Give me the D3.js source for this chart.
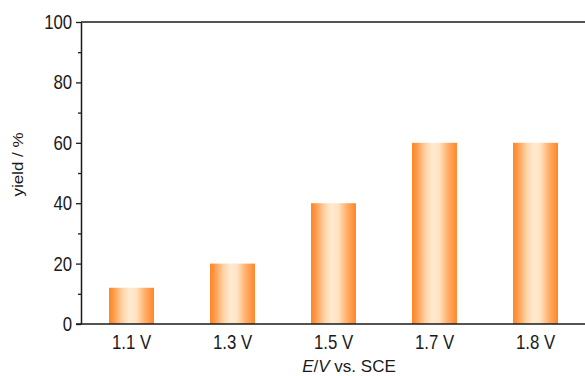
<!DOCTYPE html>
<html>
<head>
<meta charset="utf-8">
<script src="https://cdn.jsdelivr.net/npm/d3@7"></script>
<style>
  body { margin: 0; background: #fff; }
  svg { display: block; font-family: "Liberation Sans", Arial, sans-serif; }
</style>
</head>
<body>
<svg id="chart" width="585" height="376"></svg>
<script>
// data
var potentials = ['1.1 V', '1.3 V', '1.5 V', '1.7 V', '1.8 V'];
var yields = [12, 20, 40, 60, 60];
var yMajorTicks = [0, 20, 40, 60, 80, 100];
var yMinorTicks = [10, 30, 50, 70, 90];

var svg = d3.select('#chart');
var plotLeft = 81, plotRight = 586, plotTop = 22, plotBottom = 324;

var x = d3.scaleBand()
    .domain(potentials)
    .range([plotLeft, plotRight])
    .paddingInner(0.555)
    .paddingOuter(0.2775);

var y = d3.scaleLinear()
    .domain([0, 100])
    .range([plotBottom, plotTop]);

// bar gradient: orange edges, pale centre
var grad = svg.append('defs').append('linearGradient')
    .attr('id', 'barGrad')
    .attr('x1', '0%').attr('x2', '100%')
    .attr('y1', '0%').attr('y2', '0%');
[[0, '#ff8424'], [0.1, '#ff9a48'], [0.3, '#ffd3a6'], [0.45, '#ffead0'],
 [0.6, '#ffe4c4'], [0.8, '#ffae68'], [1, '#ff8628']].forEach(function(s) {
    grad.append('stop').attr('offset', s[0]).attr('stop-color', s[1]);
});

// bars
svg.selectAll('rect.bar')
    .data(yields)
    .enter().append('rect')
    .attr('class', 'bar')
    .attr('x', function(d, i) { return x(potentials[i]); })
    .attr('y', function(d) { return y(d); })
    .attr('width', x.bandwidth())
    .attr('height', function(d) { return plotBottom - y(d); })
    .attr('fill', 'url(#barGrad)');

// top frame line
svg.append('line')
    .attr('x1', plotLeft).attr('x2', 585)
    .attr('y1', plotTop).attr('y2', plotTop)
    .attr('stroke', '#1a1a1a').attr('stroke-width', 1.5);

// bottom line (extends left to the 0 tick)
svg.append('line')
    .attr('x1', plotLeft - 5).attr('x2', 585)
    .attr('y1', plotBottom).attr('y2', plotBottom)
    .attr('stroke', '#1a1a1a').attr('stroke-width', 1.5);

// y axis minor ticks
svg.append('g')
    .attr('transform', 'translate(' + plotLeft + ',0)')
    .call(d3.axisLeft(y).tickValues(yMinorTicks).tickSize(3).tickFormat(''))
    .call(function(g) { g.select('.domain').remove(); })
    .selectAll('line').attr('stroke', '#1a1a1a').attr('stroke-width', 1.3);

// y axis major
var yAxis = svg.append('g')
    .attr('transform', 'translate(' + plotLeft + ',0)')
    .call(d3.axisLeft(y).tickValues(yMajorTicks).tickSize(5).tickPadding(4).tickSizeOuter(0));
yAxis.select('.domain').attr('stroke', '#1a1a1a').attr('stroke-width', 1.5);
yAxis.selectAll('line').attr('stroke', '#1a1a1a').attr('stroke-width', 1.3);
yAxis.selectAll('text')
    .attr('font-size', 20)
    .attr('fill', '#1a1a1a')
    .attr('transform', 'scale(0.84,1)')
    .attr('x', -10.5);

// x axis labels
var xAxis = svg.append('g')
    .attr('transform', 'translate(0,' + plotBottom + ')')
    .call(d3.axisBottom(x).tickSize(0).tickPadding(11));
xAxis.select('.domain').remove();
xAxis.selectAll('text')
    .attr('font-size', 20)
    .attr('fill', '#1a1a1a')
    .attr('transform', 'scale(0.84,1)');

// axis titles
var xt = svg.append('text')
    .attr('x', 349).attr('y', 372)
    .attr('text-anchor', 'middle')
    .attr('font-size', 17)
    .attr('fill', '#1a1a1a');
xt.append('tspan').attr('font-style', 'italic').text('E');
xt.append('tspan').text('/');
xt.append('tspan').attr('font-style', 'italic').text('V');
xt.append('tspan').text(' vs. SCE');

svg.append('text')
    .attr('transform', 'translate(23,164.5) rotate(-90) scale(1,0.85)')
    .attr('text-anchor', 'middle')
    .attr('font-size', 17)
    .attr('fill', '#1a1a1a')
    .text('yield / %');
</script>
</body>
</html>
